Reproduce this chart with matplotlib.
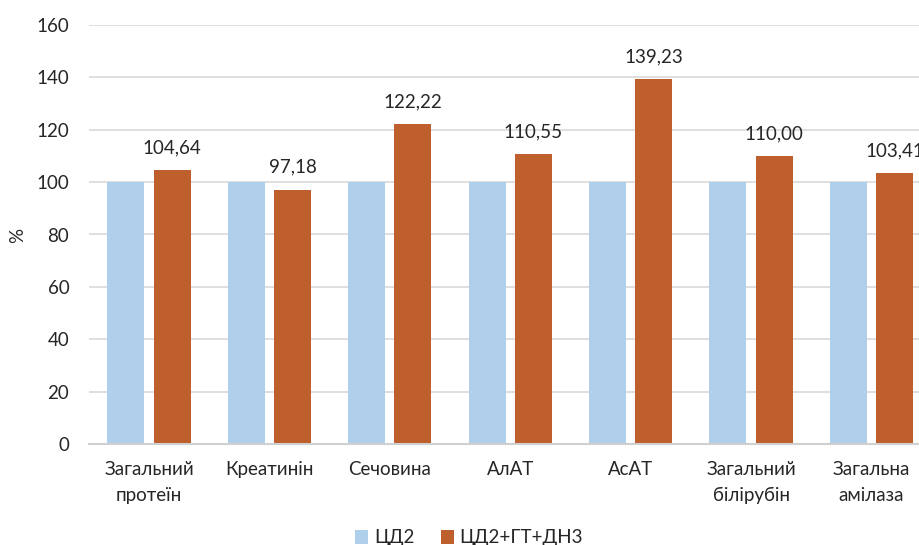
import matplotlib
matplotlib.use("Agg")
import matplotlib.pyplot as plt
import numpy as np
from matplotlib.patches import Patch

categories = ["Загальний\nпротеїн", "Креатинін", "Сечовина", "АлАТ", "АсАТ",
              "Загальний\nбілірубін", "Загальна\nамілаза"]
control = [100, 100, 100, 100, 100, 100, 100]
treated = [104.64, 97.18, 122.22, 110.55, 139.23, 110.00, 103.41]
series_names = ["ЦД2", "ЦД2+ГТ+ДН3"]
yticks = [0, 20, 40, 60, 80, 100, 120, 140, 160]

plt.rcParams["font.family"] = ["Lato", "DejaVu Sans"]

blue = "#AFCFEA"
orange = "#BE5F2D"
text_col = "#262626"
fs = 13.5

fig = plt.figure(figsize=(9.2, 5.45), dpi=100)
ax = fig.add_axes([88.8 / 920, 1 - 444 / 545, 842.9 / 920, 419 / 545])

x = np.arange(len(categories))
w = 0.307
off = 0.192
ax.bar(x - off, control, width=w, color=blue, zorder=3)
bars = ax.bar(x + off, treated, width=w, color=orange, zorder=3)

for b, v in zip(bars, treated):
    ax.annotate(f"{v:.2f}".replace(".", ","),
                (b.get_x() + b.get_width() / 2, v),
                xytext=(0, 10), textcoords="offset points",
                ha="center", va="bottom", fontsize=fs, color=text_col)

ax.set_xlim(-0.5, len(categories) - 0.5)
ax.set_ylim(0, 160)
ax.set_yticks(yticks)
ax.set_xticks(x)
ax.set_xticklabels(categories, fontsize=fs, color=text_col, linespacing=1.65)
ax.tick_params(axis="y", labelsize=fs, labelcolor=text_col, length=0, pad=14)
ax.tick_params(axis="x", length=0, pad=12)

ax.grid(axis="y", color="#D9D9D9", linewidth=1.2, zorder=0)
for s in ["top", "right", "left"]:
    ax.spines[s].set_visible(False)
ax.spines["bottom"].set_color("#D0D0D0")
ax.spines["bottom"].set_linewidth(1.5)
ax.spines["bottom"].set_zorder(4)

fig.text(18 / 920, 1 - 235 / 545, "%", rotation=90, ha="center", va="center",
         fontsize=fs, color=text_col)

handles = [Patch(facecolor=blue), Patch(facecolor=orange)]
fig.legend(handles, series_names, loc="center", bbox_to_anchor=(469 / 920, 1 - 538 / 545),
           ncol=2, frameon=False, fontsize=fs, handlelength=0.7, handleheight=0.7,
           handletextpad=0.3, columnspacing=1.4, labelcolor=text_col)

fig.savefig("out.png", dpi=100)
